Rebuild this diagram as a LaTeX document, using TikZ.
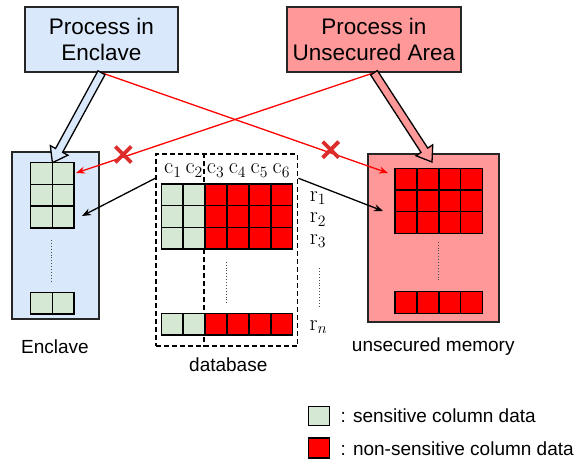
\RequirePackage{fix-cm}
\documentclass[tikz,border=0pt]{standalone}
\usepackage[no-math]{fontspec}
\setmainfont{Liberation Sans}
\usetikzlibrary{calc,arrows.meta}

\definecolor{enclblue}{HTML}{DAE8FC}
\definecolor{unsecred}{HTML}{FF9999}
\definecolor{cellgreen}{HTML}{D5E8D4}
\definecolor{cellred}{HTML}{FF0000}
\definecolor{crossred}{HTML}{DD2C2C}

\tikzset{
  procbox/.style={draw=black!85, line width=1.5pt, minimum height=65pt, inner sep=0pt, align=center, font=\fontsize{22.5}{26}\selectfont},
  membox/.style={draw=black!85, line width=1.5pt, inner sep=0pt},
  sens/.style={fill=cellgreen, draw=black, line width=1.5pt},
  nonsens/.style={fill=cellred, draw=black, line width=1.5pt},
  lbl/.style={inner sep=0pt, font=\fontsize{19}{22}\selectfont},
  hdr/.style={inner sep=0pt, font=\fontsize{22.5}{26}\selectfont},
  vdots/.style={dotted, line width=0.9pt, black!70},
  redline/.style={draw=red, line width=1.3pt, -{Stealth[length=9pt,width=7pt]}},
  blkline/.style={draw=black, line width=1.3pt, -{Stealth[length=9pt,width=7pt]}},
  xmark/.style={draw=crossred, line width=3.8pt},
}

% wide hollow arrow: from, to, fill
\newcommand{\blockarrow}[3]{%
  \draw[fill=#3, line width=1.3pt] let \p1=($(#2)-(#1)$), \n1={atan2(\y1,\x1)} in
    ($(#1)+(\n1+90:4pt)$) -- ($(#2)+(\n1+180:14pt)+(\n1+90:4pt)$)
    -- ($(#2)+(\n1+180:14pt)+(\n1+90:10pt)$) -- (#2)
    -- ($(#2)+(\n1+180:14pt)+(\n1-90:10pt)$) -- ($(#2)+(\n1+180:14pt)+(\n1-90:4pt)$)
    -- ($(#1)+(\n1-90:4pt)$) -- cycle;}

\begin{document}
\begin{tikzpicture}[x=1pt,y=-1pt]
	\useasboundingbox (0,0) rectangle (581,461);
	
	% processes
	\node[procbox, fill=enclblue, minimum width=153pt] (penc) at (101.5,39.5) {Process in\\Enclave};
	\node[procbox, fill=unsecred, minimum width=174pt] (penu) at (374,39.5) {Process in\\Unsecured Area};
	
	% memories
	\node[membox, fill=enclblue, minimum width=87pt, minimum height=167pt] (encl) at (55.5,235.5) {};
	\node[membox, fill=unsecred, minimum width=131pt, minimum height=168pt] (mem) at (433.5,238) {};
	\node[draw, line width=1.5pt, dash pattern=on 5pt off 3pt, inner sep=0pt, minimum width=141.7pt, minimum height=192pt] (db) at (226.85,250) {};
	\coordinate (dv) at (204,0);
	\draw[line width=1.5pt, dash pattern=on 5pt off 3pt] (dv |- db.north) -- (dv |- db.south);
	
	% enclave cells
	\foreach \j in {0,1,2}
		\foreach \i in {0,1} \draw[sens] (30.7+\i*21.7,162.7+\j*21.7) rectangle ++(21.7,21.7);
	\foreach \i in {0,1} \draw[sens] (30.7+\i*21.7,292.3) rectangle ++(21.7,21.7);
	\draw[vdots] (51.7,240) -- (51.7,281.7);
	
	% database cells
	\foreach \j in {0,1,2} {
		\foreach \i in {0,1} \draw[sens] (161.3+\i*21.9,184+\j*21.7) rectangle ++(21.9,21.7);
		\foreach \i in {2,...,5} \draw[nonsens] (161.3+\i*21.9,184+\j*21.7) rectangle ++(21.9,21.7);
	}
	\foreach \i in {0,1} \draw[sens] (161.3+\i*21.9,313.3) rectangle ++(21.9,21.7);
	\foreach \i in {2,...,5} \draw[nonsens] (161.3+\i*21.9,313.3) rectangle ++(21.9,21.7);
	\draw[vdots] (226.7,261.7) -- (226.7,302.7);
	
	% unsecured cells
	\foreach \j in {0,1,2}
		\foreach \i in {0,...,3} \draw[nonsens] (395+\i*21.9,168.3+\j*21.7) rectangle ++(21.9,21.7);
	\foreach \i in {0,...,3} \draw[nonsens] (395+\i*21.9,291.7) rectangle ++(21.9,21.7);
	\draw[vdots] (438.3,241.7) -- (438.3,281.7);
	
	% columns and rows
	\foreach \k/\x in {1/172.8,2/194.2,3/215.6,4/237.5,5/259.4,6/281.3}
		\node[hdr] (c\k) at (\x,170.5) {$\mathrm{c}_{\k}$};
	\foreach \k/\y in {1/198,2/219.7,3/241.4}
		\node[hdr] (r\k) at (318,\y) {$\mathrm{r}_{\k}$};
	\node[hdr] (rn) at (318.5,327) {$\mathrm{r}_n$};
	\draw[vdots] (319,268) -- (319,308);
	
	\node[lbl] (tencl) at (55,346.7) {Enclave};
	\node[lbl] (tdb) at (228.3,365) {database};
	\node[lbl] (tmem) at (433.3,346.7) {unsecured memory};
	
	% arrow ends
	\coordinate (etop) at (52.4,162.7);
	\coordinate (ered) at (76,173);
	\coordinate (eblk) at (82,216);
	\coordinate (mtop) at (432,162);
	\coordinate (mred) at (388,173);
	\coordinate (mblk) at (383,211);
	
	\draw[redline] (penc.south) -- (mred);
	\draw[redline] (penu.south) -- (ered);
	\draw[blkline] ($(db.north west)+(0,25)$) -- (eblk);
	\draw[blkline] ($(db.north east)+(0,25)$) -- (mblk);
	\blockarrow{penc.south}{etop}{enclblue}
	\blockarrow{penu.south}{mtop}{unsecred}
	
	% blocked access
	\foreach \cx/\cy in {123.3/154.5,330.7/149.7}
		\draw[xmark] (\cx,\cy) +(-8,-8) -- +(8,8) +(-8,8) -- +(8,-8);
	
	% legend
	\node[draw, line width=1.5pt, fill=cellgreen, inner sep=0pt, minimum width=21pt, minimum height=19pt] (lsens) at (319.2,416) {};
	\node[draw, line width=1.5pt, fill=cellred, inner sep=0pt, minimum width=21pt, minimum height=20pt] (lnon) at (319.2,447.8) {};
	\node[lbl, anchor=west] (tsens) at (340.5,416) {: sensitive column data};
	\node[lbl, anchor=west] (tnon) at (340.5,448.3) {: non-sensitive column data};
\end{tikzpicture}
\end{document}
